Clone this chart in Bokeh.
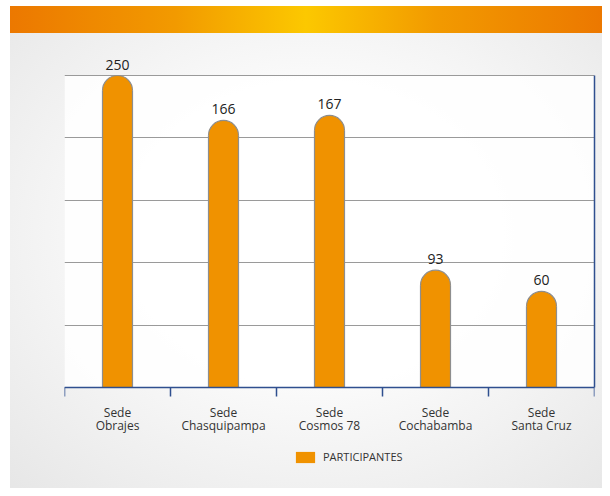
import math
from bokeh.plotting import figure
from bokeh.models import (FixedTicker, LinearAxis, Range1d, Legend, LegendItem,
                          ColumnDataSource, BoxAnnotation)
from bokeh.core.properties import value
from bokeh.embed import file_html
from bokeh.resources import INLINE

# ---- data ----
sede_prefix = ["Sede", "Sede", "Sede", "Sede", "Sede"]
sede_names = ["Obrajes", "Chasquipampa", "Cosmos 78", "Cochabamba", "Santa Cruz"]
participants = [250, 166, 167, 93, 60]          # printed labels
bar_heights = [250, 214, 218, 94, 77]            # drawn bar heights
grid_ticks = [0, 50, 100, 150, 200, 250]
series_name = "PARTICIPANTES"

# ---- layout constants ----
W, H = 602, 488
ML, MR, MT, MB = 64, 8, 40, 0
AXIS_Y = 387                      # pixel row of the value 0 line
frame_w = W - ML - MR
frame_h = H - MT - MB
px_per_y = 312.0 / 250
y_start = -(H - MB - AXIS_Y) / px_per_y
y_end = (AXIS_Y - MT) / px_per_y
n = len(sede_names)
px_per_x = frame_w / n

BAR = "#F09200"
OUT = "#8E8E8E"
BLUE = "#2F4F8F"
FONT = "Open Sans"

p = figure(width=W, height=H, output_backend="svg", toolbar_location=None,
           x_range=Range1d(0, n), y_range=Range1d(y_start, y_end),
           min_border_left=ML, min_border_right=MR, min_border_top=MT,
           min_border_bottom=MB)
p.border_fill_color = None
p.background_fill_color = None
p.outline_line_color = None
p.styles = {
    "background": (
        "linear-gradient(90deg, #EC7800 0%, #F29A00 28%, #FCC800 50%, "
        "#F29A00 72%, #EC7800 100%) 10px 6px / 592px 27px no-repeat, "
        "linear-gradient(#FFFFFF, #FFFFFF) 0 0 / 100% 6px no-repeat, "
        "linear-gradient(#FFFFFF, #FFFFFF) 0 0 / 10px 100% no-repeat, "
        "radial-gradient(ellipse at 52% 48%, #FFFFFF 0%, #FBFBFB 40%, #E6E6E6 100%)"
    )
}

# white plot area (below the grid)
p.add_layout(BoxAnnotation(left=0, right=n, bottom=0, top=250,
                           fill_color="white", fill_alpha=0.85, line_color=None,
                           level="image"))

# y grid, hidden y axis
p.yaxis.visible = False
p.ygrid.ticker = FixedTicker(ticks=grid_ticks)
p.ygrid.grid_line_color = "#9A9A9A"
p.ygrid.grid_line_width = 1
p.xgrid.visible = False

# bottom axis at value 0 (first label line) with boundary ticks
centers = [i + 0.5 for i in range(n)]
xa = p.xaxis[0]
xa.fixed_location = 0
xa.ticker = FixedTicker(ticks=centers, minor_ticks=list(range(n + 1)))
xa.major_label_overrides = {c: lab for c, lab in zip(centers, sede_prefix)}
xa.major_tick_out = 0
xa.major_tick_in = 0
xa.minor_tick_out = 9
xa.minor_tick_in = 0
xa.minor_tick_line_color = BLUE
xa.minor_tick_line_width = 1.5
xa.axis_line_color = BLUE
xa.axis_line_width = 1.5
xa.major_label_text_font = FONT
xa.major_label_text_font_size = "12px"
xa.major_label_text_color = "#333333"
xa.major_label_standoff = 7

# second label line
xa2 = LinearAxis(ticker=FixedTicker(ticks=centers), fixed_location=0,
                 major_label_overrides={c: lab for c, lab in zip(centers, sede_names)},
                 axis_line_color=None, major_tick_out=0, major_tick_in=0,
                 minor_tick_out=0, minor_tick_in=0, major_label_standoff=29,
                 major_label_text_font=FONT, major_label_text_font_size="12px",
                 major_label_text_color="#333333")
p.add_layout(xa2, "below")

# right axis line
rax = LinearAxis(ticker=FixedTicker(ticks=[]), bounds=(0, 250),
                 axis_line_color=BLUE, axis_line_width=1.5,
                 major_tick_out=0, minor_tick_out=0,
                 major_label_text_font_size="0px")
p.add_layout(rax, "right")

# bars with rounded tops
r_px = 15.0
w = 2 * r_px / px_per_x
r_data = r_px / px_per_y
stem_top = [h - r_data for h in bar_heights]
src = ColumnDataSource(dict(x=centers, top=stem_top, h=bar_heights,
                            fill_top=[t + 1.0 / px_per_y for t in stem_top],
                            left=[c - w / 2 for c in centers],
                            right=[c + w / 2 for c in centers],
                            lab=[str(v) for v in participants]))
bars = p.vbar(x="x", top="fill_top", bottom=0, width=w, source=src,
              fill_color=BAR, line_color=None)
p.wedge(x="x", y="top", radius=r_px, radius_units="screen", start_angle=0,
        end_angle=math.pi, source=src, fill_color=BAR, line_color=None)
p.arc(x="x", y="top", radius=r_px, radius_units="screen", start_angle=0,
      end_angle=math.pi, source=src, line_color=OUT, line_width=1.2)
p.segment(x0="left", y0=0, x1="left", y1="top", source=src, line_color=OUT, line_width=1.2)
p.segment(x0="right", y0=0, x1="right", y1="top", source=src, line_color=OUT, line_width=1.2)

p.text(x="x", y="h", text="lab", source=src, y_offset=-11, text_align="center",
       text_baseline="alphabetic", text_font=value(FONT), text_font_size="14px",
       text_color="#222222")

# legend inside the (extended) frame, under the axis labels
legend = Legend(items=[LegendItem(label=series_name, renderers=[bars])],
                location=(229, 24), orientation="horizontal",
                padding=0, margin=0, border_line_color=None,
                background_fill_alpha=0, glyph_width=24, glyph_height=14,
                label_height=14, label_standoff=6,
                label_text_font=FONT, label_text_font_size="11px",
                label_text_color="#333333")
p.add_layout(legend)

open("out.html", "w").write(file_html(p, INLINE))
